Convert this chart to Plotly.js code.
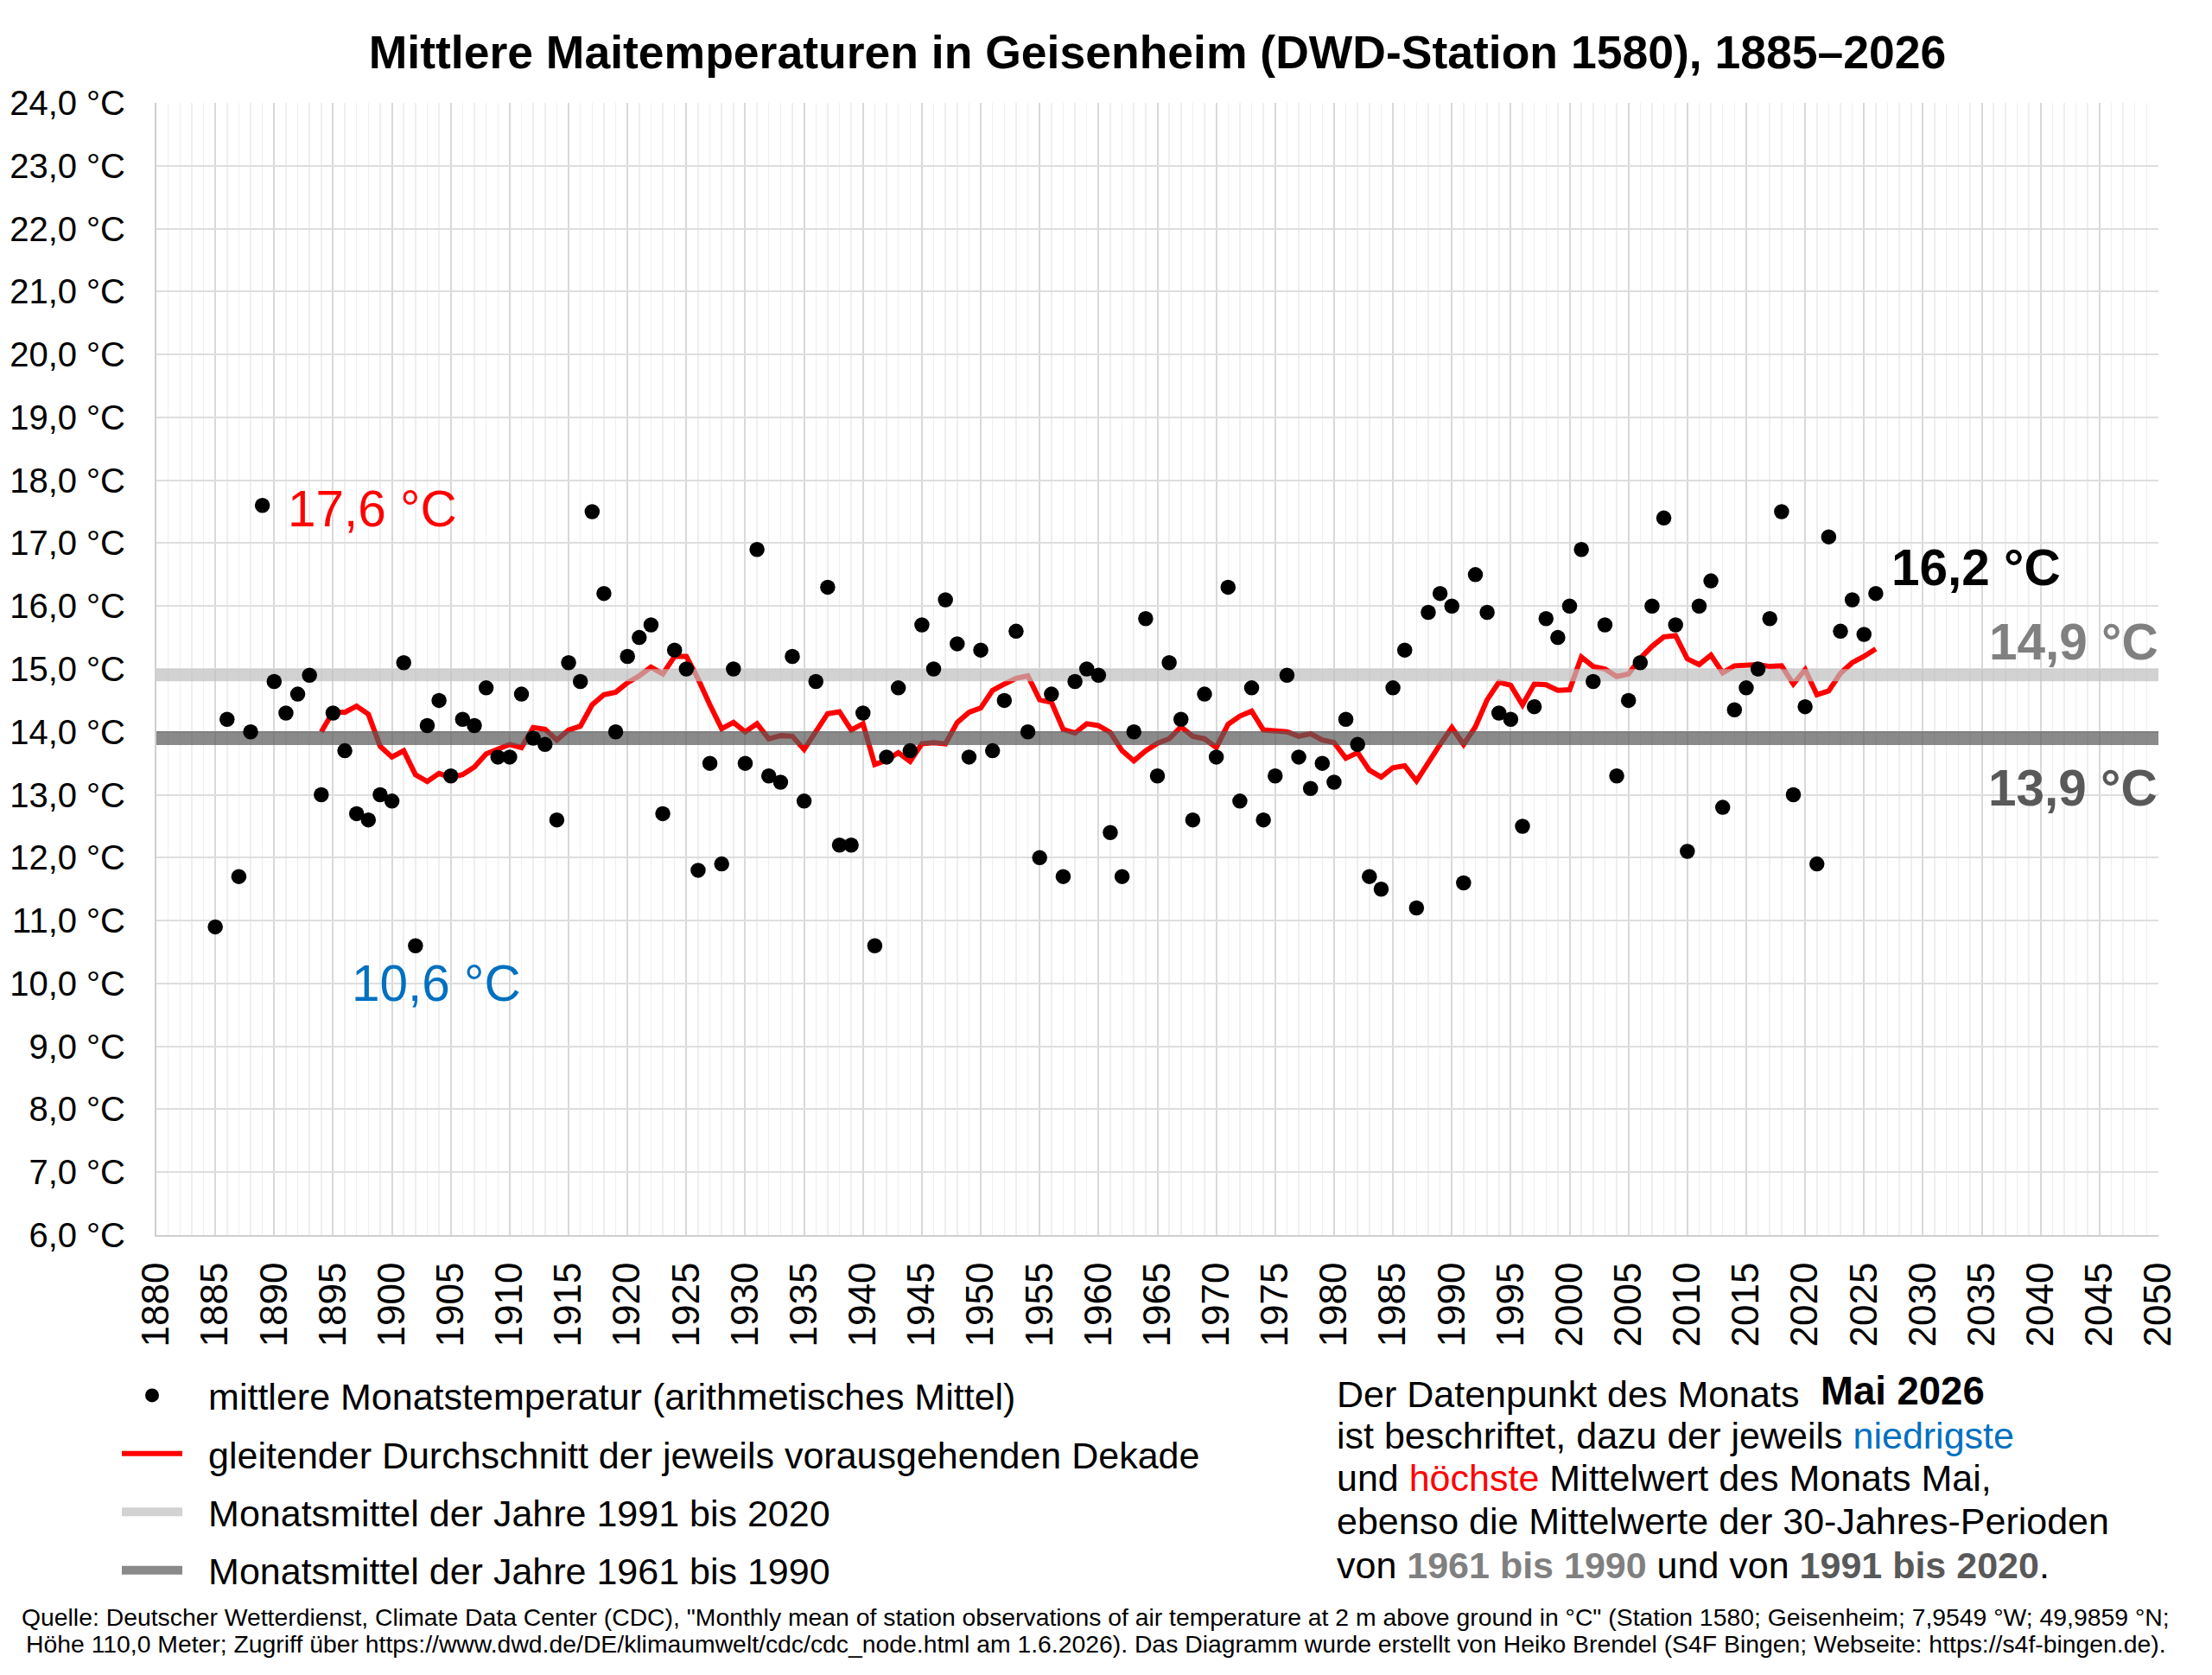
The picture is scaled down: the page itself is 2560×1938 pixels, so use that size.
<!DOCTYPE html>
<html>
<head>
<meta charset="utf-8">
<script src="https://cdn.plot.ly/plotly-3.0.1.min.js"></script>
<style>html,body{margin:0;padding:0;background:#fff;}#chart{width:2560px;height:1938px;}</style>
</head>
<body>
<div id="chart"></div>
<script>
// ---- data ----
const years = [];
for (let y = 1885; y <= 2026; y++) years.push(y);

const monthlyMean = [
  10.9, 14.2, 11.7, 14.0, 17.6, 14.8, 14.3, 14.6, 14.9, 13.0,   // 1885-1894
  14.3, 13.7, 12.7, 12.6, 13.0, 12.9, 15.1, 10.6, 14.1, 14.5,   // 1895-1904
  13.3, 14.2, 14.1, 14.7, 13.6, 13.6, 14.6, 13.9, 13.8, 12.6,   // 1905-1914
  15.1, 14.8, 17.5, 16.2, 14.0, 15.2, 15.5, 15.7, 12.7, 15.3,   // 1915-1924
  15.0, 11.8, 13.5, 11.9, 15.0, 13.5, 16.9, 13.3, 13.2, 15.2,   // 1925-1934
  12.9, 14.8, 16.3, 12.2, 12.2, 14.3, 10.6, 13.6, 14.7, 13.7,   // 1935-1944
  15.7, 15.0, 16.1, 15.4, 13.6, 15.3, 13.7, 14.5, 15.6, 14.0,   // 1945-1954
  12.0, 14.6, 11.7, 14.8, 15.0, 14.9, 12.4, 11.7, 14.0, 15.8,   // 1955-1964
  13.3, 15.1, 14.2, 12.6, 14.6, 13.6, 16.3, 12.9, 14.7, 12.6,   // 1965-1974
  13.3, 14.9, 13.6, 13.1, 13.5, 13.2, 14.2, 13.8, 11.7, 11.5,   // 1975-1984
  14.7, 15.3, 11.2, 15.9, 16.2, 16.0, 11.6, 16.5, 15.9, 14.3,   // 1985-1994
  14.2, 12.5, 14.4, 15.8, 15.5, 16.0, 16.9, 14.8, 15.7, 13.3,   // 1995-2004
  14.5, 15.1, 16.0, 17.4, 15.7, 12.1, 16.0, 16.4, 12.8, 14.35,  // 2005-2014
  14.7, 15.0, 15.8, 17.5, 13.0, 14.4, 11.9, 17.1, 15.6, 16.1,   // 2015-2024
  15.55, 16.2                                                   // 2025-2026
];

const avgYears = [];
for (let y = 1894; y <= 2026; y++) avgYears.push(y);
const decadeAvg = [
  14.00,                                                          // 1894
  14.32, 14.31, 14.41, 14.28, 13.77, 13.60, 13.70, 13.32, 13.21, 13.34, // 1895-1904
  13.27, 13.32, 13.44, 13.65, 13.73, 13.80, 13.75, 14.07, 14.04, 13.87, // 1905-1914
  14.03, 14.09, 14.43, 14.59, 14.63, 14.78, 14.89, 15.03, 14.92, 15.20, // 1915-1924
  15.20, 14.84, 14.43, 14.05, 14.15, 14.00, 14.13, 13.89, 13.94, 13.93, // 1925-1934
  13.72, 14.02, 14.29, 14.32, 14.03, 14.13, 13.48, 13.55, 13.67, 13.53, // 1935-1944
  13.81, 13.83, 13.81, 14.15, 14.31, 14.38, 14.66, 14.76, 14.85, 14.89, // 1945-1954
  14.51, 14.47, 14.04, 13.98, 14.13, 14.10, 13.99, 13.70, 13.54, 13.70, // 1955-1964
  13.82, 13.89, 14.08, 13.93, 13.89, 13.75, 14.12, 14.25, 14.33, 14.03, // 1965-1974
  14.02, 14.00, 13.93, 13.97, 13.87, 13.83, 13.58, 13.67, 13.39, 13.28, // 1975-1984
  13.43, 13.46, 13.22, 13.52, 13.80, 14.07, 13.80, 14.08, 14.51, 14.79, // 1985-1994
  14.74, 14.43, 14.76, 14.75, 14.66, 14.67, 15.19, 15.04, 15.00, 14.88, // 1995-2004
  14.92, 15.17, 15.36, 15.51, 15.53, 15.16, 15.07, 15.22, 14.94, 15.05, // 2005-2014
  15.07, 15.07, 15.04, 15.05, 14.76, 14.99, 14.59, 14.65, 14.93, 15.10, // 2015-2024
  15.20, 15.32                                                    // 2025-2026
];

const refSpan = [1880, 2050];
const mean1991_2020 = 14.9;
const mean1961_1990 = 13.9;
const maxLabel = "17,6 °C";
const minLabel = "10,6 °C";
const lastLabel = "16,2 °C";
const label1991 = "14,9 °C";
const label1961 = "13,9 °C";

const legendNames = [
  "mittlere Monatstemperatur (arithmetisches Mittel)",
  "gleitender Durchschnitt der jeweils vorausgehenden Dekade",
  "Monatsmittel der Jahre 1991 bis 2020",
  "Monatsmittel der Jahre 1961 bis 1990"
];
const GAP = "\u2002\u200A";

// ---- layout helpers (pixel -> paper) ----
const W = 2560, H = 1938;
const L = 181, R = 2498, T = 119, B = 1429;
const px = v => (v - L) / (R - L);
const py = v => (B - v) / (B - T);
const FONT = "Liberation Sans, Arial, Helvetica, sans-serif";

const traces = [
  {
    x: avgYears, y: decadeAvg, type: "scatter", mode: "lines",
    name: GAP + legendNames[1], legendrank: 2, legendgroup: "b",
    line: {color: "#FF0000", width: 6}, hoverinfo: "skip"
  },
  {
    x: refSpan, y: [mean1991_2020, mean1991_2020], type: "scatter", mode: "lines",
    name: GAP + legendNames[2], legendrank: 3, legendgroup: "c",
    line: {color: "rgba(191,191,191,0.7)", width: 14}, hoverinfo: "skip"
  },
  {
    x: refSpan, y: [mean1961_1990, mean1961_1990], type: "scatter", mode: "lines",
    name: GAP + legendNames[3], legendrank: 4, legendgroup: "d",
    line: {color: "rgba(89,89,89,0.7)", width: 16}, hoverinfo: "skip"
  },
  {
    x: years, y: monthlyMean, type: "scatter", mode: "markers",
    name: GAP + legendNames[0], legendrank: 1, legendgroup: "a",
    marker: {color: "#000000", size: 17.5}
  }
];

const ann = [];
function addAnn(text, x, y, xanchor, size, color, extra) {
  ann.push(Object.assign({
    text: text, xref: "paper", yref: "paper", x: px(x), y: py(y),
    xanchor: xanchor, yanchor: "middle", showarrow: false,
    font: {family: FONT, size: size, color: color}
  }, extra || {}));
}
addAnn(maxLabel, 331, 588, "left", 58.5, "#FF0000");
addAnn(minLabel, 405, 1137, "left", 58.5, "#0070C0");
addAnn("<b>" + lastLabel + "</b>", 2187, 657, "left", 58.5, "#000000");
addAnn("<b>" + label1991 + "</b>", 2500, 742, "right", 58.5, "#808080");
addAnn("<b>" + label1961 + "</b>", 2499, 911, "right", 58.5, "#595959");

// explanatory text block
const TX = 1545;
addAnn("Der Datenpunkt des Monats", TX, 1613, "left", 43, "#000000");
addAnn("<b>Mai 2026</b>", 2105, 1609, "left", 45.5, "#000000");
addAnn("ist beschriftet, dazu der jeweils <span style='color:#0070C0'>niedrigste</span>", TX, 1661, "left", 43, "#000000");
addAnn("und <span style='color:#FF0000'>höchste</span> Mittelwert des Monats Mai,", TX, 1710, "left", 43, "#000000");
addAnn("ebenso die Mittelwerte der 30-Jahres-Perioden", TX, 1760, "left", 43, "#000000");
addAnn("von <b><span style='color:#808080'>1961 bis 1990</span></b> und von <b><span style='color:#595959'>1991 bis 2020</span></b>.", TX, 1811, "left", 43, "#000000");

// source
addAnn("Quelle: Deutscher Wetterdienst, Climate Data Center (CDC), \"Monthly mean of station observations of air temperature at 2 m above ground in °C\" (Station 1580; Geisenheim; 7,9549 °W; 49,9859 °N;", 1268, 1871, "center", 28.35, "#000000");
addAnn("Höhe 110,0 Meter; Zugriff über https://www.dwd.de/DE/klimaumwelt/cdc/cdc_node.html am 1.6.2026). Das Diagramm wurde erstellt von Heiko Brendel (S4F Bingen; Webseite: https://s4f-bingen.de).", 1268, 1902, "center", 28.35, "#000000");

const layout = {
  width: W, height: H,
  margin: {l: L, r: W - R, t: T, b: H - B, pad: 0},
  paper_bgcolor: "#ffffff", plot_bgcolor: "#ffffff",
  separators: ", ",
  font: {family: FONT, color: "#000000"},
  title: {
    text: "<b>Mittlere Maitemperaturen in Geisenheim (DWD-Station 1580), 1885–2026</b>",
    font: {family: FONT, size: 53.5, color: "#000000"},
    x: 0.5, xref: "paper", xanchor: "center",
    y: 1 - 60 / H, yref: "container", yanchor: "middle"
  },
  xaxis: {
    range: [1880, 2050], tick0: 1880, dtick: 5, tickmode: "linear",
    tickangle: -90, tickfont: {family: FONT, size: 44, color: "#000000"},
    showgrid: true, gridcolor: "#d9d9d9", gridwidth: 2,
    minor: {dtick: 1, tick0: 1880, showgrid: true, gridcolor: "#efefef", gridwidth: 1.5},
    showline: true, linecolor: "#cfcfcf", linewidth: 2, mirror: false,
    zeroline: false, ticks: "", ticklabelstandoff: 12, fixedrange: true
  },
  yaxis: {
    range: [6, 24], tick0: 6, dtick: 1, tickmode: "linear",
    tickformat: ".1f", ticksuffix: " °C",
    tickfont: {family: FONT, size: 40, color: "#000000"},
    showgrid: true, gridcolor: "#dedede", gridwidth: 2,
    showline: true, linecolor: "#cfcfcf", linewidth: 2,
    zeroline: false, ticks: "", ticklabelstandoff: 26, fixedrange: true
  },
  showlegend: true,
  legend: {
    x: px(136), y: py(1580), xanchor: "left", yanchor: "top",
    orientation: "v", traceorder: "grouped", tracegroupgap: 8.5,
    font: {family: FONT, size: 43, color: "#000000"},
    itemwidth: 70, bgcolor: "rgba(0,0,0,0)", borderwidth: 0
  },
  annotations: ann
};

Plotly.newPlot("chart", traces, layout, {staticPlot: true, responsive: false});
</script>
</body>
</html>
